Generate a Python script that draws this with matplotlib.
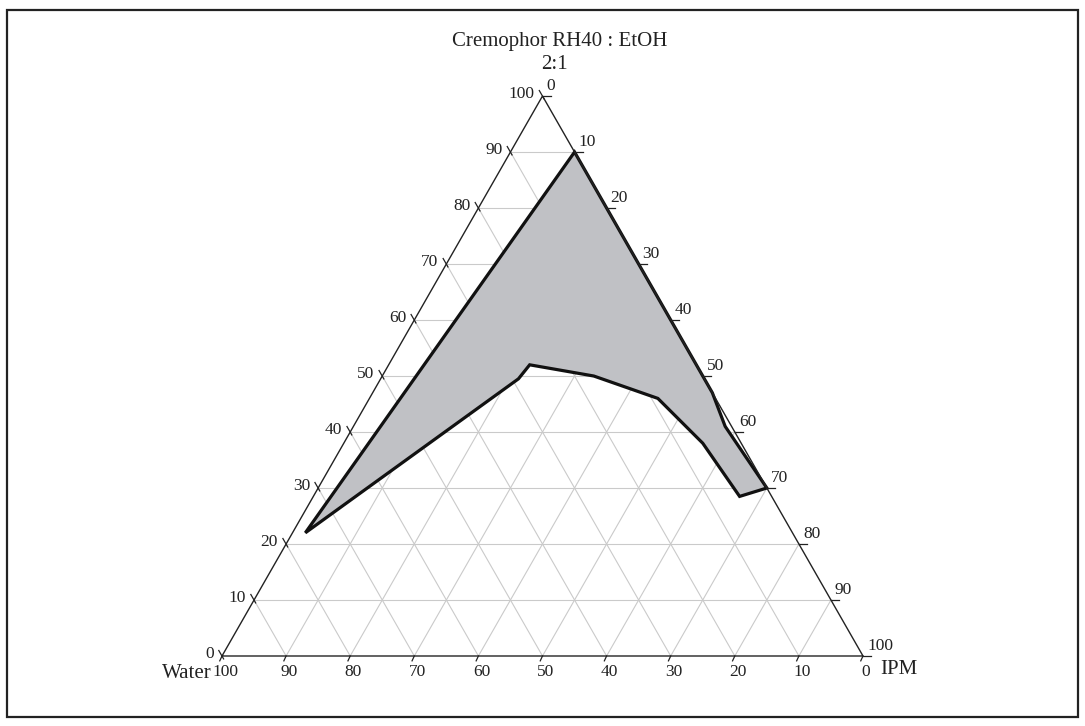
import numpy as np
import matplotlib.pyplot as plt

# Microemulsion region: Cremophor RH40:EtOH (2:1) / IPM / Water, in %
cremophor = [90, 47, 41, 30, 28.5, 38, 46, 50, 52, 49.5, 22]
ipm = [10, 53, 58, 70, 66.5, 56, 45, 33, 22, 21.5, 2]
ticks = list(range(0, 101, 10))

title_top = "Cremophor RH40 : EtOH"
title_sub = "2:1"
label_left = "Water"
label_right = "IPM"

H = np.sqrt(3) / 2


def to_xy(c, i):
    c = np.asarray(c, dtype=float)
    i = np.asarray(i, dtype=float)
    return i + c / 2, c * H


def px(v):
    # pixel offset -> points at dpi 100
    return v * 0.72


fig = plt.figure(figsize=(10.85, 7.26), dpi=100)
ax = fig.add_axes([0, 0, 1, 1])
ax.set_xlim(-222 / 6.41, (1085 - 222) / 6.41)
ax.set_ylim(-(726 - 656) / 6.466, 656 / 6.466)
ax.axis("off")

serif = ["Liberation Serif", "DejaVu Serif"]
ink = "#222222"
grid_kw = dict(color="#cacaca", lw=0.8, zorder=1)

# grid lines at every 10 %
for v in ticks[1:-1]:
    x, y = to_xy([v, v], [0, 100 - v])
    ax.plot(x, y, **grid_kw)
    x, y = to_xy([0, 100 - v], [v, v])
    ax.plot(x, y, **grid_kw)
    x, y = to_xy([0, 100 - v], [100 - v, 0])
    ax.plot(x, y, **grid_kw)

# phase region
px_, py_ = to_xy(cremophor, ipm)
ax.fill(px_, py_, facecolor="#c0c1c5", edgecolor="#111111", lw=2.3,
        joinstyle="miter", zorder=2)

# triangle outline
tx, ty = to_xy([0, 0, 100, 0], [0, 100, 0, 0])
ax.plot(tx, ty, color=ink, lw=1.0, zorder=3)

tick_kw = dict(color=ink, lw=0.9, zorder=3)
num_kw = dict(textcoords="offset points", fontsize=12.5, family=serif,
              color=ink)
for v in ticks:
    # left axis: Cremophor
    x0, y0 = to_xy(v, 0)
    ax.plot([x0 + 0.25, x0 - 0.5], [y0 - 0.45, y0 + 0.85], **tick_kw)
    ax.annotate(str(v), (x0, y0), xytext=(px(-8), px(2)),
                ha="right", va="center", **num_kw)
    # right axis: IPM
    x0, y0 = to_xy(100 - v, v)
    ax.plot([x0, x0 + 1.3], [y0, y0], **tick_kw)
    ax.annotate(str(v), (x0, y0), xytext=(px(4), px(2)),
                ha="left", va="bottom", **num_kw)
    # bottom axis: Water
    x0, y0 = to_xy(0, 100 - v)
    ax.plot([x0, x0 - 0.35], [y0, y0 - 0.75], **tick_kw)
    ax.annotate(str(v), (x0, y0), xytext=(px(3), px(-16)),
                ha="center", va="center", **num_kw)

# component names
name_kw = dict(textcoords="offset points", fontsize=15, family=serif,
               color=ink)
x0, y0 = to_xy(100, 0)
ax.annotate(title_top, (x0, y0), xytext=(px(17), px(55)),
            ha="center", va="center", **name_kw)
ax.annotate(title_sub, (x0, y0), xytext=(px(12), px(32)),
            ha="center", va="center", **name_kw)
x0, y0 = to_xy(0, 0)
ax.annotate(label_left, (x0, y0), xytext=(px(-10), px(-17)),
            ha="right", va="center", **name_kw)
x0, y0 = to_xy(0, 100)
ax.annotate(label_right, (x0, y0), xytext=(px(17), px(-13)),
            ha="left", va="center", **name_kw)

# outer frame
fig.add_artist(plt.Rectangle((7 / 1085, 9 / 726), 1071 / 1085, 707 / 726,
                             transform=fig.transFigure, fill=False,
                             edgecolor=ink, lw=1.6))

fig.savefig("out.png", dpi=100)
